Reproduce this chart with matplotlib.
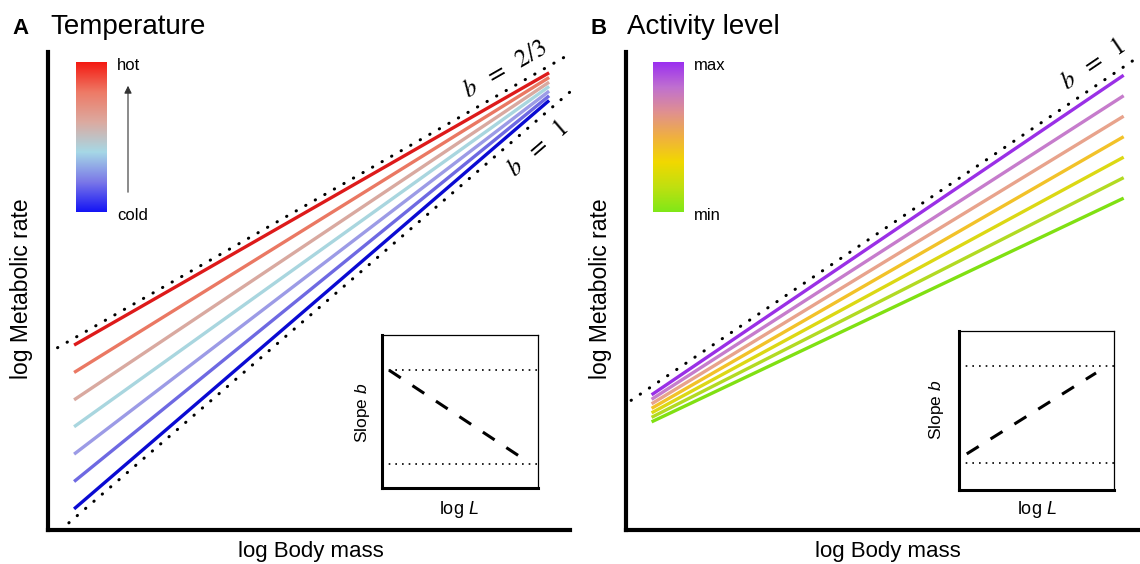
import numpy as np
import matplotlib
matplotlib.use("Agg")
import matplotlib.pyplot as plt
from matplotlib.colors import LinearSegmentedColormap

plt.rcParams["font.family"] = ["Liberation Sans", "DejaVu Sans"]
plt.rcParams["mathtext.fontset"] = "custom"
plt.rcParams["mathtext.rm"] = "Liberation Sans"
plt.rcParams["mathtext.it"] = "Liberation Sans:italic"

W, H = 1140, 564

# panel A: temperature (hot -> cold)
temp_colors = ["#dd1a1a", "#ea7863", "#d9a9a0", "#a9d6df", "#9c9be6", "#6e69e2", "#0a0ad2"]
temp_start = [4.12, 3.51, 2.90, 2.30, 1.69, 1.08, 0.47]
temp_slope = [2/3, 13/18, 7/9, 5/6, 8/9, 17/18, 1.0]
temp_x = [0.5, 9.6]
temp_guides = [(2/3, 3.94, 0.0, 10.0), (1.0, -0.24, 0.24, 10.0)]
# colour bar, bottom -> top
temp_cbar = ["#1414f5", "#7b78e8", "#a6d8e6", "#dcaaa0", "#ee7a66", "#f41a12"]
temp_inset_x = [0.045, 0.878]
temp_inset_b = [1.0, 0.695]

# panel B: activity level (max -> min)
act_colors = ["#9a2fe6", "#c67ccc", "#e8a38c", "#f2c229", "#dcd814", "#b2da22", "#80e012"]
act_start = [3.90, 3.77, 3.64, 3.51, 3.38, 3.25, 3.12]
act_slope = [1.0, 0.95, 0.90, 0.85, 0.80, 0.75, 0.70]
act_x = [0.5, 9.72]
act_guides = [(1.0, 3.64, 0.1, 9.95)]
act_cbar = ["#80e818", "#c0e010", "#f2d800", "#f0b040", "#e09090", "#c070d0", "#9b2ff0"]
act_inset_x = [0.05, 0.884]
act_inset_b = [0.698, 0.976]


def box(l, t, r, b):
    return [l / W, 1 - b / H, (r - l) / W, (b - t) / H]


def fxy(x, y):
    return (x / W, 1 - y / H)


fig = plt.figure(figsize=(W / 100, H / 100), dpi=100)


def main_panel(rect, ylim, colors, starts, slopes, xr, guides):
    ax = fig.add_axes(rect)
    ax.set_xlim(0, 10); ax.set_ylim(0, ylim)
    for s in ["top", "right"]:
        ax.spines[s].set_visible(False)
    for s in ["left", "bottom"]:
        ax.spines[s].set_linewidth(3)
    ax.set_xticks([]); ax.set_yticks([])
    x = np.array(xr)
    for c, a, b in zip(colors, starts, slopes):
        ax.plot(x, a + b * (x - x[0]), color=c, lw=2.4, solid_capstyle="butt")
    for b, c0, x0, x1 in guides:
        gx = np.array([x0, x1])
        ax.plot(gx, c0 + b * gx, color="black", lw=2.2, ls=(0, (0.1, 3.5)),
                dash_capstyle="round", clip_on=False)
    return ax


def inset(rect, xr, br, ylim):
    ax = fig.add_axes(rect)
    ax.set_xlim(0, 1); ax.set_ylim(*ylim)
    ax.set_xticks([]); ax.set_yticks([])
    for s in ["left", "bottom"]:
        ax.spines[s].set_linewidth(2.2)
    for s in ["top", "right"]:
        ax.spines[s].set_linewidth(0.9)
    for b in [2/3, 1.0]:
        ax.axhline(b, color="black", lw=1.2, ls=(0, (1, 3)))
    ax.plot(xr, br, color="black", lw=2.2, ls=(0, (4.6, 4.6)))
    return ax


def cbar(rect, colors):
    ax = fig.add_axes(rect)
    cmap = LinearSegmentedColormap.from_list("c", colors)
    ax.imshow(np.linspace(1, 0, 256)[:, None], aspect="auto", cmap=cmap)
    ax.axis("off")


axA = main_panel(box(48, 52, 570, 530), 10.65, temp_colors, temp_start, temp_slope,
                 temp_x, temp_guides)
axB = main_panel(box(626, 52, 1138, 530), 13.79, act_colors, act_start, act_slope,
                 act_x, act_guides)

lab_kw = dict(math_fontfamily="stix", fontsize=18, transform_rotates_text=True,
              rotation_mode="anchor", ha="center", va="center")
axA.text(8.75, 10.27, r"$b\ \ =\ \ 2/3$", rotation=np.degrees(np.arctan(2/3)), **lab_kw)
axA.text(9.39, 8.50, r"$b\ \ =\ \ 1$", rotation=45, **lab_kw)
axB.text(9.12, 13.44, r"$b\ \ =\ \ 1$", rotation=45, **lab_kw)

inset(box(382, 335, 538, 488), temp_inset_x, temp_inset_b, (0.581, 1.125))
inset(box(959, 331, 1114, 490), act_inset_x, act_inset_b, (0.574, 1.120))

cbar(box(76, 62, 107, 212), temp_cbar)
cbar(box(653, 62, 684, 212), act_cbar)

# texts
for x0, lab in [(12, "A"), (590, "B")]:
    fig.text(*fxy(x0, 34), lab, fontsize=16, fontweight="bold", va="baseline")
for x0, ttl in [(50, "Temperature"), (627, "Activity level")]:
    fig.text(*fxy(x0, 34), ttl, fontsize=20, va="baseline")

for x0, yc in [(22, 289), (600, 289)]:
    fig.text(*fxy(x0, yc), "log Metabolic rate", fontsize=16.5, rotation=90,
             ha="center", va="center")
for xc in [311, 888]:
    fig.text(*fxy(xc, 551), "log Body mass", fontsize=16, ha="center", va="center")

for xl, top, bot in [(117, "hot", "cold"), (694, "max", "min")]:
    fig.text(*fxy(xl, 65), top, fontsize=12, va="center")
    fig.text(*fxy(xl, 215), bot, fontsize=12, va="center")
for xa in [128, 706]:
    axA.annotate("", xy=fxy(xa, 83), xytext=fxy(xa, 195), xycoords="figure fraction",
                 textcoords="figure fraction",
                 arrowprops=dict(arrowstyle="-|>", lw=0.8, color="#333333",
                                 mutation_scale=11))

for xs, ys, xl, yl in [(362, 413, 459, 510), (937, 410, 1037, 509)]:
    fig.text(*fxy(xs, ys), "Slope $b$", fontsize=12.5, rotation=90, ha="center", va="center")
    fig.text(*fxy(xl, yl), "log $L$", fontsize=13, ha="center", va="center")

fig.savefig("out.png", dpi=100)
